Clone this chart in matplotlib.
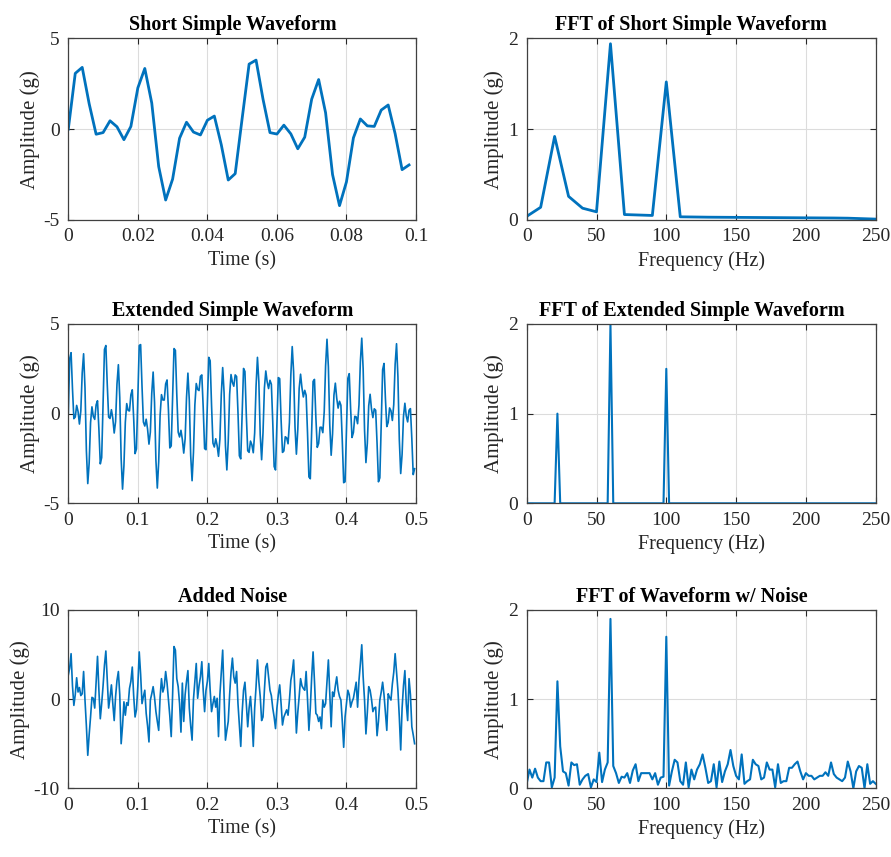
import numpy as np
import matplotlib
matplotlib.use('Agg')
import matplotlib.pyplot as plt
from matplotlib.ticker import FormatStrFormatter

# Sampling
fs = 500

# Extended simple waveform (0 - 0.5 s)
ext_wave = [
    0, 3.07, 3.40, 1.40, -0.28, -0.19, 0.46, 0.13, -0.58, 0.15, 2.27, 3.34, 1.44, -2.06, -3.90, -2.75, -0.50, 0.38, -0.16, -0.32, 0.49, 0.72, -0.86, -2.80, -2.45,
    0.59, 3.58, 3.80, 1.65, -0.19, -0.27, 0.22, -0.26, -1.08, -0.44, 1.65, 2.73, 0.90, -2.50, -4.21, -2.90, -0.48, 0.56, 0.18, 0.15, 1.05, 1.33, -0.25, -2.23, -1.97,
    0.95, 3.80, 3.85, 1.53, -0.47, -0.69, -0.31, -0.86, -1.70, -1.03, 1.13, 2.32, 0.63, -2.61, -4.15, -2.67, -0.10, 1.06, 0.76, 0.76, 1.66, 1.88, 0.21, -1.91, -1.80,
    0.95, 3.63, 3.53, 1.07, -1.03, -1.30, -0.93, -1.44, -2.20, -1.41, 0.90, 2.26, 0.74, -2.34, -3.74, -2.15, 0.49, 1.68, 1.35, 1.29, 2.08, 2.16, 0.34, -1.95, -2.01,
    0.59, 3.14, 2.95, 0.46, -1.64, -1.86, -1.40, -1.77, -2.38, -1.42, 1.06, 2.57, 1.18, -1.79, -3.14, -1.53, 1.07, 2.18, 1.74, 1.53, 2.16, 2.07, 0.08, -2.35, -2.52,
    0, 2.52, 2.35, -0.08, -2.07, -2.16, -1.53, -1.74, -2.18, -1.07, 1.53, 3.14, 1.79, -1.18, -2.57, -1.06, 1.42, 2.38, 1.77, 1.40, 1.86, 1.64, -0.46, -2.95, -3.14,
    -0.59, 2.01, 1.95, -0.34, -2.16, -2.08, -1.29, -1.35, -1.68, -0.49, 2.15, 3.74, 2.34, -0.74, -2.26, -0.90, 1.41, 2.20, 1.44, 0.93, 1.30, 1.03, -1.07, -3.53, -3.63,
    -0.95, 1.80, 1.91, -0.21, -1.88, -1.66, -0.76, -0.76, -1.06, 0.10, 2.67, 4.15, 2.61, -0.63, -2.32, -1.13, 1.03, 1.70, 0.86, 0.31, 0.69, 0.47, -1.53, -3.85, -3.80,
    -0.95, 1.97, 2.23, 0.25, -1.33, -1.05, -0.15, -0.18, -0.56, 0.48, 2.90, 4.21, 2.50, -0.90, -2.73, -1.65, 0.44, 1.08, 0.26, -0.22, 0.27, 0.19, -1.65, -3.80, -3.58,
    -0.59, 2.45, 2.80, 0.86, -0.72, -0.49, 0.32, 0.16, -0.38, 0.50, 2.75, 3.90, 2.06, -1.44, -3.34, -2.27, -0.15, 0.58, -0.13, -0.46, 0.19, 0.28, -1.40, -3.40, -3.07,
]

# Short waveform is the first 0.1 s of the same signal
short_wave = ext_wave[:50]

# FFT of short waveform (10 Hz bins)
short_fft = [0.04, 0.14, 0.92, 0.26, 0.13, 0.09, 1.94, 0.06, 0.055, 0.05, 1.52, 0.035, 0.033,
             0.031, 0.030, 0.029, 0.028, 0.027, 0.026, 0.025, 0.024, 0.023, 0.022, 0.020, 0.015, 0.010]

# FFT of extended waveform (2 Hz bins): flat zero except three peaks
ext_peak_freqs = [22, 60, 100]
ext_peak_amps = [1.0, 2.0, 1.5]

# Waveform with added noise
noise_wave = [
    2.7, 3.5, 5.1, 1.5, -0.7, 0.5, 2.4, 0.8, 1.3, 0.4,
    0.6, 3.1, -0.1, -3.0, -6.3, -4.0, -2.0, 0.2, 0.1, -1.0,
    2.0, 4.8, 1.0, -2.2, -0.5, 1.5, 3.8, 5.4, 2.1, -1.0,
    0.2, 1.6, -0.5, -2.4, 0.3, 2.1, 3.1, 0.5, -5.0, -3.0,
    -0.3, -1.8, -0.4, -0.7, 1.2, 2.0, 3.6, 0.4, -2.0, -1.2,
    1.5, 5.3, 2.8, -0.5, 0.3, 1.0, -1.6, -3.0, -4.8, -0.1,
    0.6, 1.4, 0.2, -1.4, -2.5, -3.5, 0.2, 2.3, 0.8, 1.4,
    3.1, 1.8, -0.1, -1.9, -4.2, 0.5, 5.9, 5.5, 2.3, 1.4,
    -0.5, -3.7, 1.8, -2.5, 0.5, 2.0, 3.2, -1.0, -3.0, -4.6,
    0.0, 2.0, 4.0, 0.1, 1.5, 2.5, 4.2, 1.0, -1.4, 1.0,
    2.0, 4.0, 1.0, -1.4, -0.5, 0.3, -0.9, 0.1, -4.2, 0.5,
    3.0, 5.5, 0.5, -4.6, -3.5, -2.5, 0.5, 3.0, 4.6, 2.5,
    1.8, 3.1, -0.5, -3.0, -5.3, -1.5, 1.0, 1.9, -0.5, -3.1,
    -1.0, 0.3, -2.0, -5.3, -1.0, 1.4, 4.4, 2.0, 0.3, -2.4,
    -2.0, 1.0, 3.6, 4.0, 2.5, 1.0, 0.4, -1.0, -2.0, -3.3,
    -1.0, 0.5, 1.6, -0.5, -2.9, -2.0, -1.6, -1.2, -1.8, -0.1,
    2.1, 3.0, 4.4, 0.5, -3.8, -1.5, 0.3, 2.3, 1.5, 1.2,
    1.0, 3.1, 0.0, -3.5, -1.0, 2.5, 5.3, 2.0, -1.6, -1.8,
    -2.5, -2.0, -3.3, -0.1, -0.9, -0.5, 2.0, 4.4, 0.5, -3.1,
    0.8, 0.3, 1.5, 2.5, 1.0, 0.3, -0.1, -2.5, -5.4, -2.0,
    -0.5, 1.0, 0.5, -0.9, -0.3, 0.1, 1.0, 1.9, -0.9, 2.1,
    4.0, 6.1, 2.5, -0.1, -3.9, -1.5, 1.4, 1.0, 0.0, -1.4,
    -1.0, -0.9, -4.1, -2.5, -0.1, 0.8, 1.9, 0.5, -1.5, -3.5,
    0.6, 0.2, -0.1, 1.7, 3.0, 5.1, 3.0, 1.0, -2.0, -5.7,
    -1.0, 1.5, 3.2, -0.5, -2.4, 2.3, 0.5, -3.1, -4.0, -5.0,
]

# FFT of waveform with noise (2 Hz bins)
noise_fft = [
    0.05, 0.21, 0.12, 0.22, 0.12, 0.08, 0.08, 0.29, 0.29, 0.01,
    0.12, 1.20, 0.47, 0.19, 0.17, 0.03, 0.29, 0.26, 0.27, 0.04,
    0.10, 0.14, 0.16, 0.01, 0.10, 0.07, 0.40, 0.07, 0.21, 0.29,
    1.90, 0.25, 0.17, 0.06, 0.13, 0.12, 0.17, 0.06, 0.20, 0.27,
    0.08, 0.17, 0.17, 0.17, 0.17, 0.10, 0.17, 0.04, 0.12, 0.13,
    1.70, 0.03, 0.19, 0.32, 0.29, 0.08, 0.04, 0.29, 0.01, 0.21,
    0.10, 0.21, 0.27, 0.38, 0.23, 0.06, 0.08, 0.27, 0.01, 0.30,
    0.07, 0.19, 0.27, 0.43, 0.25, 0.14, 0.10, 0.38, 0.05, 0.08,
    0.10, 0.32, 0.27, 0.25, 0.10, 0.12, 0.29, 0.21, 0.21, 0.01,
    0.27, 0.06, 0.08, 0.08, 0.23, 0.23, 0.27, 0.30, 0.19, 0.10,
    0.17, 0.14, 0.14, 0.10, 0.12, 0.14, 0.14, 0.18, 0.14, 0.29,
    0.16, 0.12, 0.10, 0.08, 0.12, 0.30, 0.19, 0.00, 0.19, 0.25,
    0.23, 0.00, 0.27, 0.05, 0.08, 0.05,
]

# Time / frequency axes
t_short = np.arange(len(short_wave)) / fs
t_ext = np.arange(len(ext_wave)) / fs
f_short = np.arange(len(short_fft)) * 10
f_ext = np.arange(126) * 2
ext_fft = np.zeros(126)
for f, a in zip(ext_peak_freqs, ext_peak_amps):
    ext_fft[f // 2] = a

# MATLAB-like look
plt.rcParams['font.family'] = ['Liberation Serif', 'DejaVu Serif']
plt.rcParams['axes.unicode_minus'] = False
line_color = '#0072BD'
text_color = '#262626'

fig = plt.figure(figsize=(8.91, 8.57), dpi=100)

W, H = 891, 857
cols = [(68.3, 416.0), (526.7, 875.7)]
rows = [(38.3, 220.0), (324.0, 503.3), (610.0, 788.3)]


def make_axes(r, c):
    x0, x1 = cols[c]
    y0, y1 = rows[r]
    return fig.add_axes([x0 / W, 1 - y1 / H, (x1 - x0) / W, (y1 - y0) / H])


def style(ax, title, xlabel, xlim, xticks, ylim, yticks):
    ax.set_xlim(xlim)
    ax.set_ylim(ylim)
    ax.set_xticks(xticks)
    ax.set_yticks(yticks)
    ax.xaxis.set_major_formatter(FormatStrFormatter('%g'))
    ax.yaxis.set_major_formatter(FormatStrFormatter('%g'))
    ax.grid(True, color='#dcdcdc', linewidth=0.8)
    ax.set_axisbelow(True)
    ax.tick_params(direction='in', length=4, width=0.8, top=True, right=True,
                   labelsize=14, colors=text_color, pad=6)
    for s in ax.spines.values():
        s.set_color('#404040')
        s.set_linewidth(0.9)
    # titles sit a little left of centre in the original
    ax.set_title(title, fontsize=14.5, fontweight='bold', color='black', pad=6, x=0.472)
    ax.set_xlabel(xlabel, fontsize=14.5, color=text_color, labelpad=4)
    ax.set_ylabel('Amplitude (g)', fontsize=15, color=text_color, labelpad=3)


# Short simple waveform
ax = make_axes(0, 0)
ax.plot(t_short, short_wave, color=line_color, linewidth=2)
style(ax, 'Short Simple Waveform', 'Time (s)', (0, 0.1), [0, 0.02, 0.04, 0.06, 0.08, 0.1], (-5, 5), [-5, 0, 5])

# FFT of short waveform
ax = make_axes(0, 1)
ax.plot(f_short, short_fft, color=line_color, linewidth=2)
style(ax, 'FFT of Short Simple Waveform', 'Frequency (Hz)', (0, 250), [0, 50, 100, 150, 200, 250], (0, 2), [0, 1, 2])

# Extended waveform
ax = make_axes(1, 0)
ax.plot(t_ext, ext_wave, color=line_color, linewidth=1.2)
style(ax, 'Extended Simple Waveform', 'Time (s)', (0, 0.5), [0, 0.1, 0.2, 0.3, 0.4, 0.5], (-5, 5), [-5, 0, 5])

# FFT of extended waveform
ax = make_axes(1, 1)
ax.plot(f_ext, ext_fft, color=line_color, linewidth=1.5)
style(ax, 'FFT of Extended Simple Waveform', 'Frequency (Hz)', (0, 250), [0, 50, 100, 150, 200, 250], (0, 2), [0, 1, 2])

# Waveform with noise
ax = make_axes(2, 0)
ax.plot(t_ext, noise_wave, color=line_color, linewidth=1.2)
style(ax, 'Added Noise', 'Time (s)', (0, 0.5), [0, 0.1, 0.2, 0.3, 0.4, 0.5], (-10, 10), [-10, 0, 10])

# FFT of waveform with noise
ax = make_axes(2, 1)
ax.plot(f_ext, noise_fft, color=line_color, linewidth=1.5)
style(ax, 'FFT of Waveform w/ Noise', 'Frequency (Hz)', (0, 250), [0, 50, 100, 150, 200, 250], (0, 2), [0, 1, 2])

fig.savefig('out.png', dpi=100)
